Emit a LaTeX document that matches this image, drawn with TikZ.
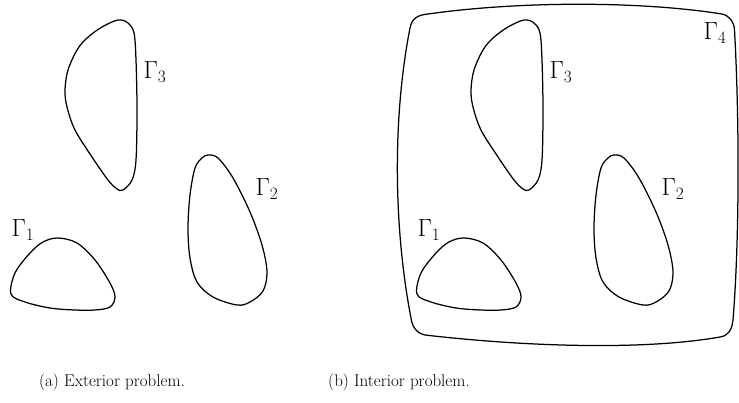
\documentclass[tikz,border=0pt]{standalone}
\begin{document}
\begin{tikzpicture}[x=1pt,y=-1pt,
  curve/.style={line width=1.25pt,line join=round},
  lab/.style={inner sep=0pt,font=\fontsize{24}{28}\selectfont},
  captext/.style={inner sep=0pt,font=\fontsize{17}{20}\selectfont}]
\useasboundingbox (0,0) rectangle (739,402);
\newcommand{\myblobs}[1]{%
\begin{scope}[xshift=#1]
\draw[curve] plot[smooth cycle,tension=0.55] coordinates{
 (118,20) (128,23) (134,33) (136,60) (137,110) (136,160) (132,180) (123,190)
 (117,189) (108,180) (92,157) (75,130) (67,107) (65,90) (68,70) (77,50) (87,38) (102,27)};
\draw[curve] plot[smooth cycle,tension=0.55] coordinates{
 (208,155) (218,158) (233,178) (250,212) (262,245) (267,272) (263,291) (250,302)
 (237,305) (213,297) (197,282) (190,258) (188,228) (190,195) (195,168) (202,158)};
\draw[curve] plot[smooth cycle,tension=0.55] coordinates{
 (58,238) (77,243) (95,260) (110,283) (115,297) (110,307) (95,310) (75,310)
 (50,308) (25,302) (11,294) (15,273) (30,253) (43,242)};
\end{scope}}
% left panel
\myblobs{0}
\node[lab] (g3a) at (155,72) {$\Gamma_3$};
\node[lab] (g2a) at (267,189) {$\Gamma_2$};
\node[lab] (g1a) at (23,230) {$\Gamma_1$};
% right panel
\myblobs{406}
\node[lab] (g3b) at (561,72) {$\Gamma_3$};
\node[lab] (g2b) at (673,189) {$\Gamma_2$};
\node[lab] (g1b) at (429,230) {$\Gamma_1$};
\node[lab] (g4b) at (715,33) {$\Gamma_4$};
\draw[curve] (410,28) .. controls (412,18) and (418,15) .. (428,14)
  .. controls (520,1) and (640,1) .. (722,14)
  .. controls (730,16) and (734,22) .. (734.5,30)
  .. controls (739.5,120) and (739.5,240) .. (733,320)
  .. controls (732,330) and (728,336) .. (720,337)
  .. controls (640,351) and (520,346) .. (425,335)
  .. controls (416,333) and (412,326) .. (411,318)
  .. controls (394,230) and (392,120) .. cycle;
\node[captext] (capa) at (112,382) {(a) Exterior problem.};
\node[captext] (capb) at (399,382) {(b) Interior problem.};
\end{tikzpicture}
\end{document}
